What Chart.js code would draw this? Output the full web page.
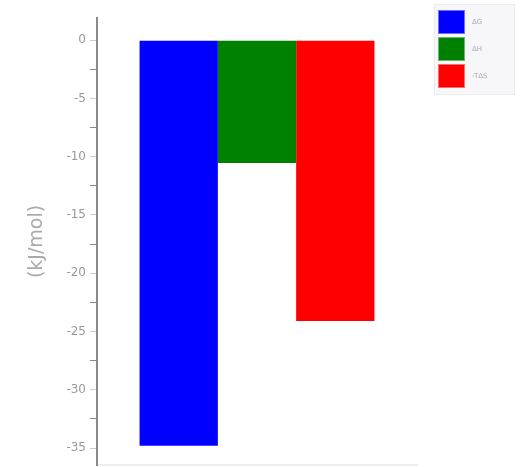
<!DOCTYPE html>
<html>
<head>
<meta charset="utf-8">
<script src="https://cdn.jsdelivr.net/npm/chart.js@4/dist/chart.umd.min.js"></script>
<style>
  html, body { margin: 0; padding: 0; background: #fff; }
  #wrap { width: 531px; height: 467px; }
</style>
</head>
<body>
<div id="wrap"><canvas id="thermoChart"></canvas></div>
<script>
const categories = [""];
const seriesNames = ["ΔG", "ΔH", "-TΔS"];
const seriesColors = ["#0000ff", "#008000", "#ff0000"];
const dG = [-34.8];
const dH = [-10.55];
const minusTdS = [-24.1];

// simple legend box in the top right corner
const boxLegend = {
    id: "boxLegend",
    afterDraw(chart) {
        const c = chart.ctx;
        c.save();
        c.fillStyle = "#f7f7f9";
        c.strokeStyle = "#ececec";
        c.lineWidth = 1;
        c.fillRect(434, 4, 80, 90);
        c.strokeRect(434.5, 4.5, 80, 90);
        chart.data.datasets.forEach((ds, i) => {
            const y = 10 + i * 27;
            c.fillStyle = ds.backgroundColor;
            c.globalAlpha = 0.55;
            c.fillRect(438, y, 27, 24);
            c.globalAlpha = 1;
            c.fillRect(439, y + 1, 25, 22);
            c.fillStyle = "#aaa";
            c.font = "7px 'DejaVu Sans'";
            c.textBaseline = "middle";
            c.fillText(ds.label, 472, y + 12);
        });
        c.restore();
    }
};

new Chart(document.getElementById("thermoChart"), {
    type: "bar",
    data: {
        labels: categories,
        datasets: [
            { label: seriesNames[0], data: dG, backgroundColor: seriesColors[0] },
            { label: seriesNames[1], data: dH, backgroundColor: seriesColors[1] },
            { label: seriesNames[2], data: minusTdS, backgroundColor: seriesColors[2] }
        ]
    },
    options: {
        responsive: true,
        maintainAspectRatio: false,
        animation: false,
        categoryPercentage: 0.734,
        barPercentage: 1,
        layout: { padding: { top: 18, right: 114, bottom: 0, left: 0 } },
        plugins: {
            legend: { display: false },
            tooltip: { enabled: false }
        },
        scales: {
            x: {
                grid: { display: false, drawTicks: false },
                ticks: { display: false },
                border: { color: "#eeeeee", width: 2 },
                afterFit: (scale) => { scale.height = 2; }
            },
            y: {
                min: -36.45,
                max: 1.9,
                afterBuildTicks: (scale) => {
                    scale.ticks = scale.ticks.filter(t => Math.abs(t.value / 2.5 - Math.round(t.value / 2.5)) < 1e-6);
                },
                afterFit: (scale) => {
                    scale.width = 97;
                    scale.paddingTop = 0;
                    scale.paddingBottom = 0;
                },
                ticks: {
                    stepSize: 2.5,
                    padding: 4,
                    color: "#999",
                    font: { family: "DejaVu Sans", size: 12 },
                    callback: (v) => (v % 5 === 0 ? v : "")
                },
                grid: {
                    drawOnChartArea: false,
                    tickLength: 7,
                    tickColor: (ctx) => (ctx.tick && ctx.tick.value % 5 === 0 ? "#cccccc" : "#888888")
                },
                border: { color: "#8a8a8a", width: 2 },
                title: {
                    display: true,
                    text: "(kJ/mol)",
                    color: "#aaa",
                    font: { family: "DejaVu Sans", size: 19 },
                    padding: { top: 26, bottom: 0 }
                }
            }
        }
    },
    plugins: [boxLegend]
});
</script>
</body>
</html>
